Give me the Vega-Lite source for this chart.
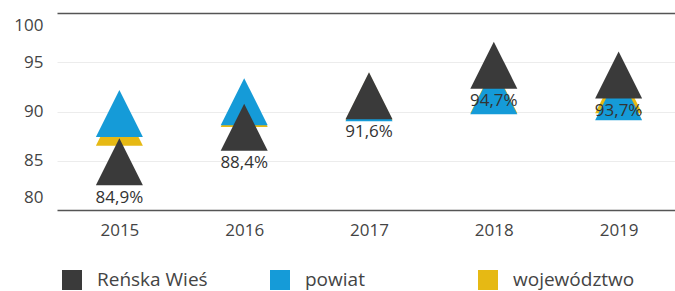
{
  "$schema": "https://vega.github.io/schema/vega-lite/v6.json",
  "width": 624,
  "height": 197,
  "autosize": {"type": "none"},
  "padding": {"left": 57, "top": 13, "right": 0, "bottom": 81},
  "config": {
    "font": "Open Sans",
    "view": {"stroke": null},
    "axis": {"labelColor": "#444444", "labelFontSize": 17, "title": null}
  },
  "data": {
    "values": [
      {"year": "2015", "series": "województwo", "value": 88.9},
      {"year": "2016", "series": "województwo", "value": 90.8},
      {"year": "2017", "series": "województwo", "value": 91.5},
      {"year": "2018", "series": "województwo", "value": 92.2},
      {"year": "2019", "series": "województwo", "value": 92.2},
      {"year": "2015", "series": "powiat", "value": 89.8},
      {"year": "2016", "series": "powiat", "value": 91.0},
      {"year": "2017", "series": "powiat", "value": 91.4},
      {"year": "2018", "series": "powiat", "value": 92.1},
      {"year": "2019", "series": "powiat", "value": 91.5},
      {"year": "2015", "series": "Reńska Wieś", "value": 84.9},
      {"year": "2016", "series": "Reńska Wieś", "value": 88.4},
      {"year": "2017", "series": "Reńska Wieś", "value": 91.6},
      {"year": "2018", "series": "Reńska Wieś", "value": 94.7},
      {"year": "2019", "series": "Reńska Wieś", "value": 93.7}
    ]
  },
  "encoding": {
    "x": {
      "field": "year", "type": "ordinal",
      "scale": {"type": "point", "padding": 0.5},
      "axis": {"domain": false, "ticks": false, "labelAngle": 0, "labelPadding": 12, "grid": false}
    },
    "y": {
      "field": "value", "type": "quantitative",
      "scale": {"domain": [80, 100], "nice": false, "zero": false},
      "axis": {
        "values": [80, 85, 90, 95, 100],
        "domain": false, "ticks": false, "labelPadding": 14,
        "labelFlush": true, "labelFlushOffset": -4,
        "grid": true,
        "gridColor": {"condition": {"test": "datum.value === 80 || datum.value === 100", "value": "#555555"}, "value": "#ececec"},
        "gridWidth": {"condition": {"test": "datum.value === 80 || datum.value === 100", "value": 1.6}, "value": 1}
      }
    }
  },
  "layer": [
    {
      "mark": {"type": "point", "shape": "M0,-1L1,1L-1,1Z", "filled": true, "opacity": 1, "size": 2209, "strokeWidth": 0},
      "encoding": {
        "color": {
          "field": "series", "type": "nominal",
          "scale": {"domain": ["Reńska Wieś", "powiat", "województwo"], "range": ["#3a3a3a", "#159bd8", "#e6b914"]},
          "legend": {
            "title": null, "orient": "none", "legendX": 5, "legendY": 257,
            "direction": "horizontal", "columns": 3, "gridAlign": "all", "columnPadding": 51,
            "symbolType": "square", "symbolSize": 400, "symbolStrokeWidth": 0, "symbolOpacity": 1,
            "labelFontSize": 19, "labelOffset": 15, "labelColor": "#444444", "padding": 0
          }
        }
      }
    },
    {
      "transform": [
        {"filter": "datum.series === 'Reńska Wieś'"},
        {"calculate": "replace(format(datum.value, '.1f'), '.', ',') + '%'", "as": "label"}
      ],
      "mark": {"type": "text", "dy": 36, "fontSize": 17, "color": "#333333", "baseline": "middle"},
      "encoding": {"text": {"field": "label"}}
    }
  ]
}
